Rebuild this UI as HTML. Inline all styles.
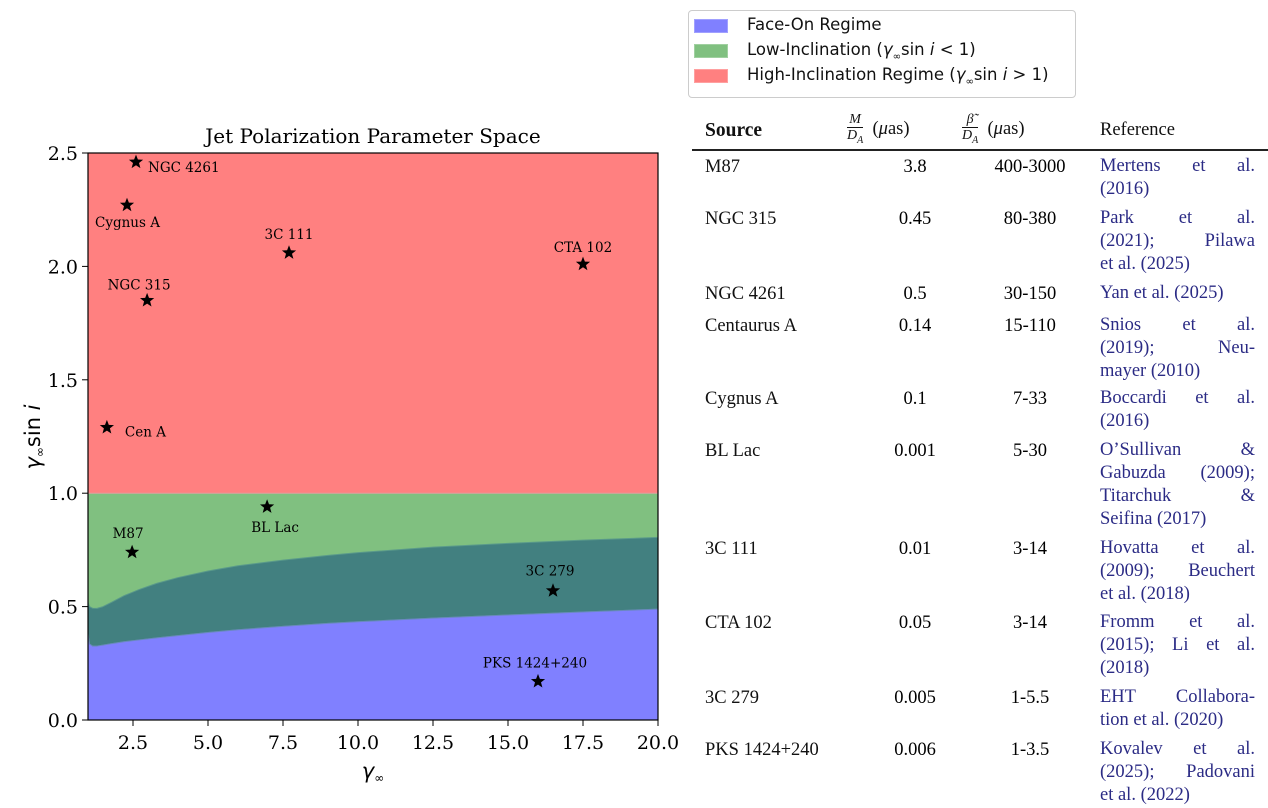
<!DOCTYPE html>
<html><head><meta charset="utf-8">
<style>
body{margin:0;width:1268px;height:808px;background:#fff;position:relative;overflow:hidden;font-family:"DejaVu Serif","Liberation Serif",serif;}
#legend{position:absolute;left:688px;top:10px;width:386px;height:86px;border:1px solid #ccc;border-radius:4px;font-family:"DejaVu Sans","Liberation Sans",sans-serif;font-size:16.5px;color:#111;}
.le{position:absolute;left:5px;height:20px;line-height:20px;}
.le span.p{display:inline-block;width:32px;height:12px;vertical-align:middle;margin-right:19px;}
.tb{position:absolute;font-family:"Liberation Serif","DejaVu Serif",serif;font-size:18.5px;color:#111;}
.ref{position:absolute;left:1100px;width:155px;font-family:"Liberation Serif",serif;font-size:18.5px;line-height:23px;color:#2b2b85;}
.ref div{text-align:justify;text-align-last:justify;white-space:nowrap;}
.ref div.last{text-align-last:left;}
.c{position:absolute;width:100px;text-align:center;font-family:"Liberation Serif",serif;font-size:18.5px;}
</style></head><body>
<svg id="chart" width="690" height="808" style="position:absolute;left:0;top:0" font-family="DejaVu Serif, Liberation Serif, serif"></svg>

<div id="legend">
<div class="le" style="top:4px"><span class="p" style="background:#8080ff;border:1px solid #a0a0ff"></span>Face-On Regime</div>
<div class="le" style="top:29px"><span class="p" style="background:#80c080;border:1px solid #a0d0a0"></span>Low-Inclination (<i>γ</i><sub style="font-size:10px">∞</sub>sin <i>i</i> &lt; 1)</div>
<div class="le" style="top:54px"><span class="p" style="background:#ff8080;border:1px solid #ffa0a0"></span>High-Inclination Regime (<i>γ</i><sub style="font-size:10px">∞</sub>sin <i>i</i> &gt; 1)</div>
</div>

<div>
<div class="tb" style="left:705px;top:120px;font-weight:bold;font-size:19.5px">Source</div>
<div class="tb" style="left:847px;top:112px;width:110px"><span style="display:inline-block;text-align:center;font-style:italic;font-size:14px;line-height:15px;vertical-align:middle"><span style="display:block;border-bottom:1px solid #111;padding:0 2px">M</span><span style="display:block">D<sub style="font-size:10px">A</sub></span></span>&nbsp; (<i>μ</i>as)</div>
<div class="tb" style="left:962px;top:112px;width:120px"><span style="display:inline-block;text-align:center;font-style:italic;font-size:14px;line-height:15px;vertical-align:middle"><span style="display:block;border-bottom:1px solid #111;padding:0 2px">β̃</span><span style="display:block">D<sub style="font-size:10px">A</sub></span></span>&nbsp; (<i>μ</i>as)</div>
<div class="tb" style="left:1100px;top:120px">Reference</div>
<div style="position:absolute;left:692px;top:149px;width:576px;height:1.5px;background:#222"></div>
<div id="rows"></div>
</div>

<script>
// chart data
const regionX=[1,1.05,1.15,1.3,1.5,1.8,2.2,2.7,3.3,4,5,6,7.5,9,10,12.5,15,17.5,20];
const greenTop=[0.52,0.5,0.493,0.492,0.5,0.52,0.548,0.575,0.603,0.628,0.657,0.68,0.705,0.726,0.738,0.762,0.779,0.793,0.805];
const blueTop=[0.38,0.335,0.326,0.326,0.33,0.337,0.345,0.353,0.362,0.372,0.386,0.398,0.413,0.426,0.433,0.449,0.463,0.476,0.489];
const srcNames=["NGC 4261","Cygnus A","3C 111","CTA 102","NGC 315","Cen A","BL Lac","M87","3C 279","PKS 1424+240"];
const srcX=[2.6,2.3,7.7,17.5,2.97,1.63,6.97,2.47,16.5,16.0];
const srcY=[2.46,2.27,2.06,2.01,1.85,1.29,0.94,0.74,0.57,0.17];
const xTicks=[2.5,5,7.5,10,12.5,15,17.5,20];
const yTicks=[0,0.5,1,1.5,2,2.5];
const labelOff=[[12,10,"start"],[-32,22,"start"],[0,-14,"middle"],[0,-12,"middle"],[-8,-11,"middle"],[18,9,"start"],[8,25,"middle"],[-4,-14,"middle"],[-3,-15,"middle"],[-3,-14,"middle"]];

const L=88,R=658,T=153,B=720,XMIN=1,XMAX=20,YMIN=0,YMAX=2.5;
const sx=v=>L+(v-XMIN)/(XMAX-XMIN)*(R-L);
const sy=v=>B-(v-YMIN)/(YMAX-YMIN)*(B-T);
const svg=document.getElementById('chart');
const NS='http://www.w3.org/2000/svg';
function mk(tag,attrs,parent){const e=document.createElementNS(NS,tag);for(const k in attrs)e.setAttribute(k,attrs[k]);(parent||svg).appendChild(e);return e;}

let e;
e=mk('rect',{x:L,y:sy(2.5),width:R-L,height:sy(1)-sy(2.5),fill:'#ff8080'});


e=mk('rect',{x:L,y:sy(1),width:R-L,height:sy(0)-sy(1),fill:'#80c080'});


function area(top,bot){let d='M'+regionX.map((x,i)=>sx(x)+','+sy(top[i])).join(' L');
 for(let i=regionX.length-1;i>=0;i--)d+=' L'+sx(regionX[i])+','+sy(bot?bot[i]:0);return d+'Z';}
e=mk('path',{d:area(greenTop,blueTop),fill:'#428080',stroke:'#5a9a8a','stroke-width':1,'stroke-linejoin':'round'});


e=mk('path',{d:area(blueTop,null),fill:'#8080ff',stroke:'#6a88c0','stroke-width':1,'stroke-linejoin':'round'});


mk('line',{x1:L,x2:R,y1:sy(1),y2:sy(1),stroke:'#e0a0a0','stroke-width':1});
e=mk('rect',{x:L,y:T,width:R-L,height:B-T,fill:'none',stroke:'#000','stroke-width':1.2});



xTicks.forEach(v=>{mk('line',{x1:sx(v),x2:sx(v),y1:B,y2:B+6,stroke:'#000'});
 e=mk('text',{x:sx(v),y:B+29,'text-anchor':'middle','font-size':19});e.textContent=v.toFixed(1);
 
 });
yTicks.forEach(v=>{mk('line',{x1:L-6,x2:L,y1:sy(v),y2:sy(v),stroke:'#000'});
 e=mk('text',{x:L-10,y:sy(v)+7,'text-anchor':'end','font-size':19});e.textContent=v.toFixed(1);
 
 });

e=mk('text',{x:(L+R)/2,y:143,'text-anchor':'middle','font-size':20});e.textContent='Jet Polarization Parameter Space';


e=mk('text',{x:373,y:778,'text-anchor':'middle','font-size':21,'font-family':'DejaVu Sans, sans-serif'});
e.innerHTML='<tspan font-style="italic">γ</tspan><tspan font-size="12" dy="4">∞</tspan>';


e=mk('text',{x:0,y:0,'text-anchor':'middle','font-size':21,'font-family':'DejaVu Sans, sans-serif',transform:'translate(40,437) rotate(-90)'});
e.innerHTML='<tspan font-style="italic">γ</tspan><tspan font-size="12" dy="4">∞</tspan><tspan dy="-4">sin </tspan><tspan font-style="italic">i</tspan>';



function starPath(cx,cy,r){let p='';for(let i=0;i<10;i++){const a=-Math.PI/2+i*Math.PI/5,rr=i%2?r*0.42:r;p+=(i?'L':'M')+(cx+rr*Math.cos(a)).toFixed(1)+','+(cy+rr*Math.sin(a)).toFixed(1);}return p+'Z';}
srcNames.forEach((n,i)=>{const cx=sx(srcX[i]),cy=sy(srcY[i]);
 e=mk('path',{d:starPath(cx,cy,7.5),fill:'#000'});
 
 
 const o=labelOff[i];
 e=mk('text',{x:cx+o[0],y:cy+o[1],'text-anchor':o[2],'font-size':13.5});e.textContent=n;
 
 });

// table
const rows=[
["M87","3.8","400-3000",["Mertens et al.","(2016)"],157],
["NGC 315","0.45","80-380",["Park et al.","(2021); Pilawa","et al. (2025)"],209],
["NGC 4261","0.5","30-150",["Yan et al. (2025)"],284],
["Centaurus A","0.14","15-110",["Snios et al.","(2019); Neu-","mayer (2010)"],316],
["Cygnus A","0.1","7-33",["Boccardi et al.","(2016)"],389],
["BL Lac","0.001","5-30",["O’Sullivan &","Gabuzda (2009);","Titarchuk &","Seifina (2017)"],441],
["3C 111","0.01","3-14",["Hovatta et al.","(2009); Beuchert","et al. (2018)"],539],
["CTA 102","0.05","3-14",["Fromm et al.","(2015); Li et al.","(2018)"],613],
["3C 279","0.005","1-5.5",["EHT Collabora-","tion et al. (2020)"],688],
["PKS 1424+240","0.006","1-3.5",["Kovalev et al.","(2025); Padovani","et al. (2022)"],740]];
const rc=document.getElementById('rows');
rows.forEach(r=>{const top=r[4];
 let d=document.createElement('div');d.className='tb';d.style.left='705px';d.style.top=top+'px';d.textContent=r[0];
 
 rc.appendChild(d);
 d=document.createElement('div');d.className='c';d.style.left='865px';d.style.top=top+'px';d.textContent=r[1];
 
 rc.appendChild(d);
 d=document.createElement('div');d.className='c';d.style.left='980px';d.style.top=top+'px';d.textContent=r[2];
 
 rc.appendChild(d);
 d=document.createElement('div');d.className='ref';d.style.top=(top-2)+'px';
 
 
 r[3].forEach((ln,j)=>{const x=document.createElement('div');x.textContent=ln;if(j==r[3].length-1)x.className='last';d.appendChild(x);});
 rc.appendChild(d);});
</script>
</body></html>
